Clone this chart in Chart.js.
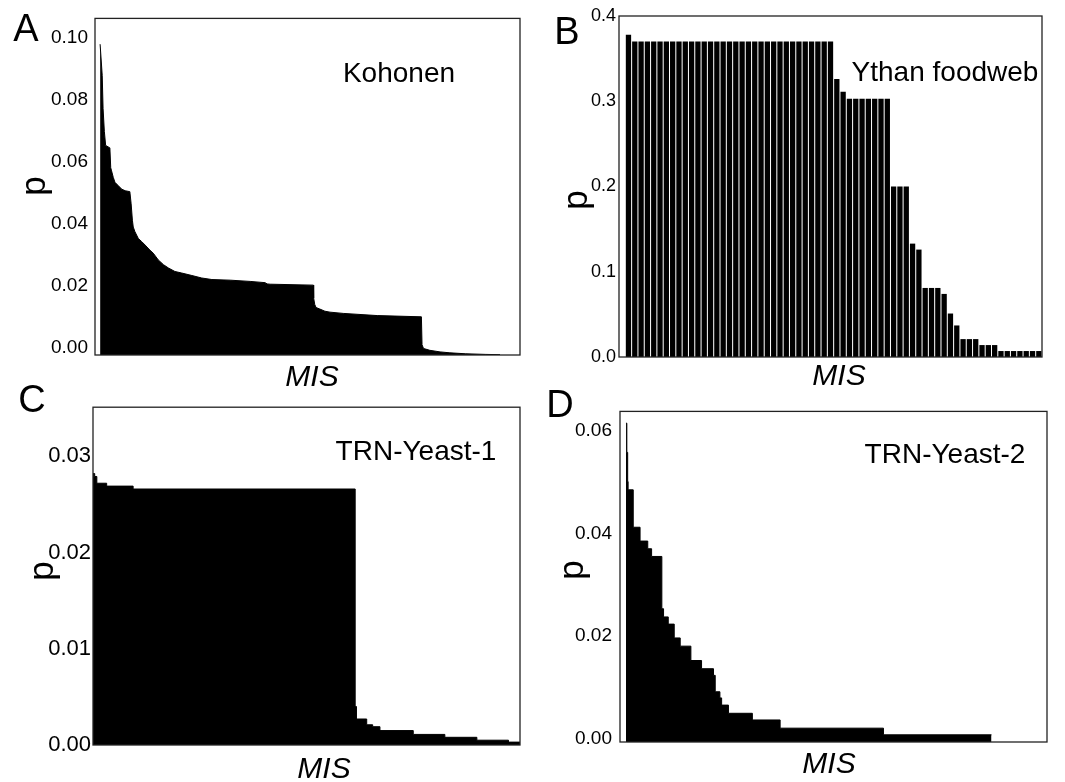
<!DOCTYPE html>
<html>
<head>
<meta charset="utf-8">
<script src="https://cdn.jsdelivr.net/npm/chart.js@4.4.1/dist/chart.umd.min.js"></script>
<style>
  body { margin: 0; background: #fff; }
  #page { position: relative; width: 1065px; height: 782px; overflow: hidden;
          font-family: "Liberation Sans", Arial, sans-serif; color: #000; }
  canvas { position: absolute; }
  .txt { position: absolute; line-height: 1; white-space: nowrap; transform: translate(-50%, -50%); }
  .letter { font-size: 38px; }
  .name { font-size: 28px; }
  .ytitle { font-size: 35px; transform: translate(-50%, -50%) rotate(-90deg); }
  .xtitle { font-size: 30px; font-style: italic; }
</style>
</head>
<body>
<div id="page">
  <canvas id="chartA" width="532" height="392" style="left:0;top:0"></canvas>
  <canvas id="chartB" width="533" height="392" style="left:532px;top:0"></canvas>
  <canvas id="chartC" width="532" height="390" style="left:0;top:392px"></canvas>
  <canvas id="chartD" width="533" height="390" style="left:532px;top:392px"></canvas>

  <div class="txt letter" style="left:26px;top:28px">A</div>
  <div class="txt letter" style="left:567px;top:31px">B</div>
  <div class="txt letter" style="left:32px;top:399px">C</div>
  <div class="txt letter" style="left:560px;top:404px">D</div>

  <div class="txt name" style="left:399px;top:73px">Kohonen</div>
  <div class="txt name" style="left:945px;top:72px">Ythan foodweb</div>
  <div class="txt name" style="left:416px;top:451px">TRN-Yeast-1</div>
  <div class="txt name" style="left:945px;top:454px">TRN-Yeast-2</div>

  <div class="txt ytitle" style="left:32px;top:186px">p</div>
  <div class="txt ytitle" style="left:574px;top:200px">p</div>
  <div class="txt ytitle" style="left:40px;top:571px">p</div>
  <div class="txt ytitle" style="left:570px;top:570px">p</div>

  <div class="txt xtitle" style="left:312px;top:376px">MIS</div>
  <div class="txt xtitle" style="left:839px;top:375px">MIS</div>
  <div class="txt xtitle" style="left:324px;top:768px">MIS</div>
  <div class="txt xtitle" style="left:829px;top:763px">MIS</div>
</div>
<script>
// A: Kohonen, x = MIS rank (% of nodes), y = p
const kohonenRank = [1.2, 1.4, 1.7, 1.9, 2.2, 2.5, 3.5, 3.7, 3.9, 4.3, 4.7, 5.5, 6.3, 7.1, 8.2,
  8.5, 8.8, 9.0, 9.4, 10.2, 11.0, 11.8, 12.9, 13.7, 14.9, 16.1, 17.3, 18.8, 20.4, 22.8, 25.1,
  27.5, 31.8, 36.5, 40.0, 40.5, 41.2, 51.4, 51.45, 51.7, 52.0, 52.9, 54.1, 55.3, 58.4, 66.4,
  76.8, 76.95, 77.3, 78.8, 81.2, 83.5, 87.1, 91.8, 95.3];
const kohonenP = [0.0978, 0.0978, 0.0877, 0.0771, 0.0697, 0.0652, 0.0644, 0.0580, 0.0570, 0.0549,
  0.0533, 0.0522, 0.0511, 0.0506, 0.0503, 0.0464, 0.0411, 0.0389, 0.0374, 0.0352, 0.0342, 0.0331,
  0.0315, 0.0305, 0.0283, 0.0268, 0.0257, 0.0246, 0.0241, 0.0233, 0.0225, 0.0220, 0.0218, 0.0214,
  0.0210, 0.0206, 0.0205, 0.0202, 0.0160, 0.0140, 0.0130, 0.0125, 0.0118, 0.0115, 0.0111, 0.0104,
  0.0100, 0.0010, -0.0002, -0.0008, -0.0013, -0.0016, -0.0019, -0.0021, -0.0022];
const kohonenTicks = [0, 0.02, 0.04, 0.06, 0.08, 0.10];

// B: Ythan foodweb, one bar per MIS
const ythanP = [0.378,
  0.370, 0.370, 0.370, 0.370, 0.370, 0.370, 0.370, 0.370, 0.370, 0.370, 0.370, 0.370, 0.370, 0.370, 0.370, 0.370,
  0.370, 0.370, 0.370, 0.370, 0.370, 0.370, 0.370, 0.370, 0.370, 0.370, 0.370, 0.370, 0.370, 0.370, 0.370, 0.370,
  0.326, 0.311, 0.303, 0.303, 0.303, 0.303, 0.303, 0.303, 0.303,
  0.200, 0.200, 0.200, 0.133, 0.126, 0.081, 0.081, 0.081, 0.074, 0.051, 0.037,
  0.021, 0.021, 0.021, 0.014, 0.014, 0.014,
  0.007, 0.007, 0.007, 0.007, 0.007, 0.007, 0.007];
const ythanTicks = [0, 0.1, 0.2, 0.3, 0.4];

// C: TRN-Yeast-1, step values starting at each rank
const yeast1Rank = [0, 0.4, 0.9, 3.2, 9.4, 61.4, 61.7, 64.1, 65.5, 67.2, 75.0, 82.4, 89.9, 97.3, 100];
const yeast1P = [0.0282, 0.0279, 0.0272, 0.0269, 0.0266, 0.0040, 0.0027, 0.0021, 0.0019, 0.0015,
  0.0011, 0.0008, 0.0005, 0.0003, 0.0003];
const yeast1Ticks = [0, 0.01, 0.02, 0.03];

// D: TRN-Yeast-2
const yeast2Rank = [1.4, 1.6, 1.8, 1.9, 3.1, 4.7, 6.5, 7.4, 9.8, 10.2, 11.3, 12.7, 14.1, 16.6, 19.1,
  21.9, 22.3, 23.4, 23.8, 25.4, 31.0, 37.5, 61.7, 87.0];
const yeast2P = [0.0615, 0.0558, 0.0501, 0.0485, 0.0412, 0.0385, 0.0370, 0.0355, 0.0253, 0.0237,
  0.0223, 0.0196, 0.0180, 0.0152, 0.0136, 0.0123, 0.0091, 0.0079, 0.0065, 0.0049, 0.0036, 0.0020,
  0.0007, 0.0007];
const yeast2Ticks = [0, 0.02, 0.04, 0.06];

const FONT = '"Liberation Sans", Arial, sans-serif';

// box around the plot area
const framePlugin = {
  id: 'frame',
  afterDatasetsDraw(chart) {
    const { ctx, chartArea: a } = chart;
    ctx.save();
    ctx.strokeStyle = '#222';
    ctx.lineWidth = 1.3;
    ctx.strokeRect(a.left, a.top, a.right - a.left, a.bottom - a.top);
    ctx.restore();
  }
};

function makeOptions(cfg) {
  return {
    responsive: false,
    animation: false,
    devicePixelRatio: 1,
    layout: { padding: cfg.pad },
    plugins: { legend: { display: false }, tooltip: { enabled: false } },
    scales: {
      x: cfg.x,
      y: {
        min: cfg.min,
        max: cfg.max,
        grid: { display: false, drawTicks: false },
        border: { display: false },
        afterFit: (scale) => { scale.width = cfg.axisWidth; },
        afterBuildTicks: (scale) => { scale.ticks = cfg.ticks.map((v) => ({ value: v })); },
        ticks: {
          padding: cfg.tickPad,
          color: '#000',
          font: { family: FONT, size: cfg.fontSize },
          callback: (v) => Number(v).toFixed(cfg.digits)
        }
      }
    }
  };
}

function areaDataset(ranks, values, stepped) {
  return {
    data: ranks.map((x, i) => ({ x: x, y: values[i] })),
    backgroundColor: '#000',
    borderColor: '#000',
    borderWidth: 1,
    pointRadius: 0,
    tension: 0,
    stepped: stepped,
    fill: 'start'
  };
}

const rankAxis = { type: 'linear', min: 0, max: 100, display: false };

new Chart(document.getElementById('chartA'), {
  type: 'line',
  data: { datasets: [areaDataset(kohonenRank, kohonenP, false)] },
  options: makeOptions({
    pad: { left: 0, top: 14, right: 12, bottom: 37 },
    axisWidth: 95, tickPad: 7, fontSize: 19, digits: 2,
    min: -0.0023, max: 0.1061, ticks: kohonenTicks, x: rankAxis
  }),
  plugins: [framePlugin]
});

new Chart(document.getElementById('chartB'), {
  type: 'bar',
  data: {
    labels: [''].concat(ythanP.map((v, i) => String(i + 1))),
    datasets: [{
      data: [null].concat(ythanP),
      backgroundColor: '#000',
      borderWidth: 0,
      categoryPercentage: 1,
      barPercentage: 0.84
    }]
  },
  options: makeOptions({
    pad: { left: 0, top: 16, right: 23, bottom: 35 },
    axisWidth: 87, tickPad: 3, fontSize: 18, digits: 1,
    min: 0, max: 0.4, ticks: ythanTicks, x: { display: false }
  }),
  plugins: [framePlugin]
});

new Chart(document.getElementById('chartC'), {
  type: 'line',
  data: { datasets: [areaDataset(yeast1Rank, yeast1P, true)] },
  options: makeOptions({
    pad: { left: 0, top: 12, right: 12, bottom: 37 },
    axisWidth: 93, tickPad: 2, fontSize: 22, digits: 2,
    min: 0, max: 0.0351, ticks: yeast1Ticks, x: rankAxis
  }),
  plugins: [framePlugin]
});

new Chart(document.getElementById('chartD'), {
  type: 'line',
  data: { datasets: [areaDataset(yeast2Rank, yeast2P, true)] },
  options: makeOptions({
    pad: { left: 0, top: 11, right: 18, bottom: 40 },
    axisWidth: 88, tickPad: 8, fontSize: 19, digits: 2,
    min: -0.0007, max: 0.0638, ticks: yeast2Ticks, x: rankAxis
  }),
  plugins: [framePlugin]
});
</script>
</body>
</html>
